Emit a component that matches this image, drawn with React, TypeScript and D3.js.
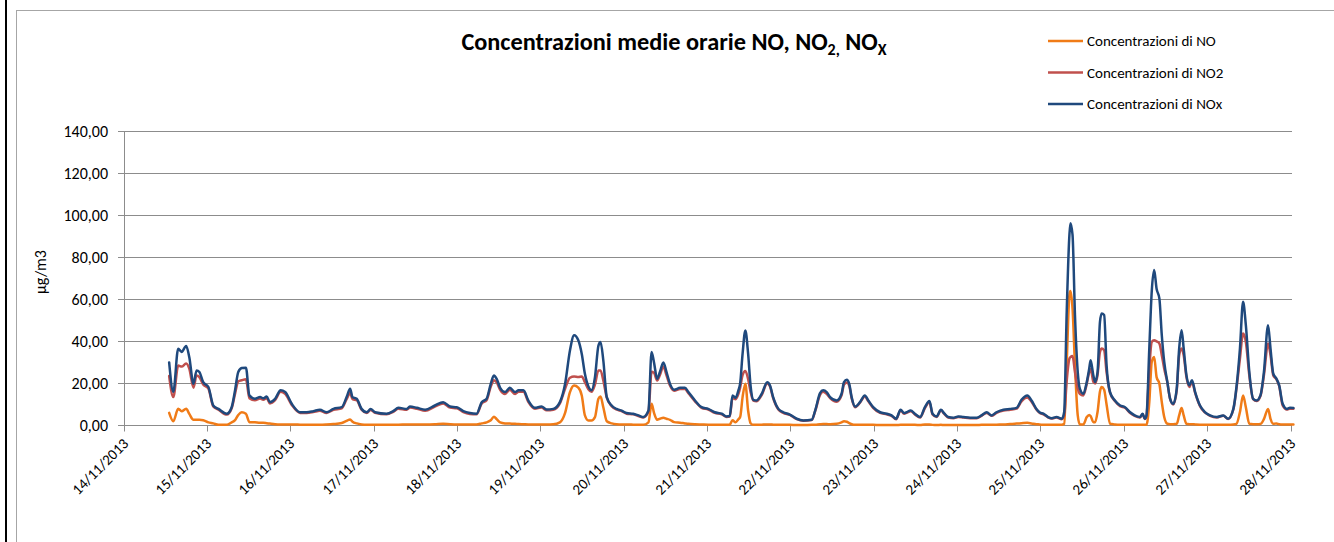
import React from "react";
import * as d3 from "d3";

// hours since 14/11/2013 00:00
const hours = [
  13, 14.2, 15.6, 16.6, 17.9, 18.8, 20.0, 20.9, 21.7, 22.8,
  24.3, 25.7, 27.2, 29.6, 31.0, 31.9, 32.9, 33.9, 35.1, 36.1,
  37.7, 39.2, 40.1, 41.1, 42.0, 43.5, 45.1, 46.4, 48.3, 50.7,
  52.6, 54.5, 56.4, 58.3, 60.3, 62.7, 64.1, 65.1, 65.8, 67.0,
  68.4, 69.9, 71.0, 72.3, 75.6, 77.5, 79.0, 81.4, 82.3, 84.3,
  86.7, 89.5, 91.9, 93.9,
  95.8, 97.7, 99.6, 101.5, 103.0, 104.4, 105.6, 106.5, 107.3, 108.3,
  109.7, 111.1, 112.6, 113.6, 115.0, 116.4, 118.3, 120.2, 121.7, 123.6,
  125.5, 127.0, 128.4, 129.6, 130.8, 131.8, 132.7, 133.7, 134.6, 135.6,
  136.6, 137.2, 138.0, 139.0, 140.4, 141.8, 143.3, 144.7, 146.6, 148.1,
  149.5, 151.0, 151.9, 152.6, 153.5, 154.3, 155.3, 156.2, 157.2, 158.4,
  160.1, 161.5, 162.5, 164.4, 166.3, 168.2, 170.1, 172.1, 173.5, 174.4,
  175.2, 176.1, 176.9,
  177.4, 178.1, 178.9, 179.7, 180.4, 181.2, 182.1, 183.6, 185.2, 186.0,
  186.9, 188.4, 189.8, 191.7, 193.7, 195.6, 198.0, 199.0, 200.4, 201.3,
  202.3, 203.3, 205.2, 206.6, 207.3, 208.1, 208.8, 209.5, 210.5, 211.9,
  213.3, 214.3, 215.7, 217.7, 219.6, 221.0, 222.3, 223.6, 224.6, 225.3,
  226.5, 227.7, 229.2, 230.6, 231.9, 232.8, 234.0, 235.2, 236.1, 237.3,
  238.8, 240.2, 241.7, 243.6, 245.5, 246.9, 248.4, 249.8, 251.2, 253.2,
  255.1, 257.0, 258.4, 260.1, 261.3, 262.7, 263.6,
  264.7, 266.1, 267.1, 268.5, 270.0, 270.7, 271.4, 272.2, 272.5, 273.1,
  273.8, 274.6, 275.2, 276.2, 277.2, 277.9, 278.3, 279.1, 279.6, 280.3,
  281.0, 281.5, 282.2, 282.9, 283.9, 285.3, 286.8, 288.2, 289.6, 291.0,
  292.5, 293.3, 293.9, 294.4, 295.2, 295.9, 296.6, 297.3, 298.1, 298.8,
  299.5, 300.4, 301.2, 302.1, 303.1, 303.8, 304.5, 305.1, 305.9, 306.7,
  307.5, 308.4, 309.8, 311.2, 312.7, 314.6, 316.5, 317.9, 319.4, 320.3,
  321.3, 322.2, 323.0, 324.0, 325.1, 326.1, 327.2, 328.2, 329.4, 330.1,
  330.9, 331.8, 332.6, 333.6, 334.8, 335.7, 336.7,
];

const noxValues = [
  30, 16, 36.5, 35, 37.8, 32.5, 19.8, 26.2, 25.4, 20.6,
  18.3, 9.5, 7.9, 5.6, 8.7, 16, 25.4, 27.3, 27.5, 14.3,
  12.7, 13.5, 12.9, 13.8, 11.1, 12.7, 16.7, 15.9, 10.3, 6.3,
  6.3, 6.8, 7.5, 6.3, 7.9, 8.7, 13.5, 17.5, 13.5, 12.7,
  7.9, 6.3, 7.8, 6.3, 5.6, 6.8, 8.4, 7.9, 9, 8.4,
  7.5, 9.5, 11.1, 9,
  8.7, 6.8, 5.9, 5.6, 11.1, 12.7, 19.8, 23.8, 22.2, 17.9,
  15.9, 17.9, 15.9, 16.7, 16.7, 11.9, 8.4, 9, 7.6, 7.9,
  11.1, 19.8, 35.7, 42.9, 40.5, 34, 24.6, 18.6, 16.7, 23,
  38, 39.7, 31, 13.5, 9.5, 7.9, 7.1, 5.9, 5.6, 4.8,
  4.0, 7.1, 35, 30, 22.2, 25.4, 30, 25.4, 19.8, 17,
  17.9, 17.9, 15.9, 11.9, 8.7, 7.9, 6.3, 5.6, 4.3, 4.5,
  14.3, 13.2, 16.7,
  20, 34, 45.2, 34, 19, 12.2, 11.9, 15, 20.6, 19,
  13.5, 7.9, 6.3, 5.2, 3.2, 2.4, 2.7, 7.1, 15.4, 16.7,
  15.9, 13.5, 11.9, 15.1, 20.6, 21.7, 19.8, 13.5, 9, 11.1,
  14.3, 11.9, 8.7, 6.3, 5.6, 4.8, 3.2, 7.5, 5.9, 6.3,
  7.1, 5.6, 4, 8.7, 11.6, 5.6, 4.3, 7.5, 5.9, 4,
  3.7, 4.3, 4, 3.7, 3.7, 4.8, 6.3, 4.8, 6.3, 7.5,
  7.9, 8.4, 12.2, 14.3, 11.9, 7.9, 6.3,
  5.6, 4, 3.5, 4, 3.2, 6.4, 52.5, 90.6, 96.2, 90.6,
  52.5, 25.4, 17.5, 15.1, 20.7, 27, 31, 23.8, 20.7, 25.4,
  49.3, 53.3, 52.5, 28.6, 15.9, 11.9, 9.5, 8.7, 6.4, 4.8,
  4, 5.6, 3.2, 4.8, 36.6, 63.6, 73.9, 65, 60.4, 42.9,
  30.2, 20.7, 12.7, 10.3, 17.5, 36.6, 45.3, 36.6, 23.8, 19.1,
  21.5, 15.9, 9.5, 6.4, 4.8, 4, 4.8, 3.2, 7.9, 18.3,
  36.6, 58.8, 47.7, 25.4, 12.7, 11.9, 14.3, 25.4, 47.7, 36.6,
  24.6, 22.3, 19.1, 10.3, 7.9, 8.4, 8.3,
];

const no2Values = [
  23.5, 13.5, 28.5, 28, 29.5, 27, 18, 23.8, 23, 19.5,
  17.5, 9, 7.5, 5.2, 8.2, 14.5, 21, 21.5, 22, 13,
  12, 12.8, 12.2, 13, 10.5, 12, 16, 15, 9.8, 6,
  6, 6.4, 7, 6, 7.4, 8.2, 12.5, 15.4, 12.5, 12,
  7.5, 6, 7.4, 6, 5.3, 6.5, 8, 7.5, 8.5, 8,
  7, 9, 10.5, 8.5,
  8.2, 6.4, 5.5, 5.3, 10.5, 12, 18.5, 21.5, 20.5, 17,
  15, 17, 15, 16, 16, 11.3, 8, 8.5, 7.2, 7.5,
  10.5, 17.5, 22.7, 23.3, 23, 23.3, 20.6, 17.2, 16, 19.5,
  26.2, 26.2, 21.4, 13.2, 9.2, 7.6, 6.8, 5.6, 5.3, 4.5,
  3.8, 6.5, 25.5, 25, 21.4, 24, 28, 23.8, 19, 16.5,
  17.3, 17.3, 15.3, 11.5, 8.4, 7.6, 6, 5.3, 4.1, 4.3,
  13, 12.5, 15,
  18, 24, 25.9, 22, 16, 11.8, 11.5, 14.5, 20, 18.5,
  13, 7.6, 6, 5, 3, 2.3, 2.6, 6.8, 14.5, 16,
  15, 13, 11.3, 14.3, 19.5, 20.5, 19, 13, 8.7, 10.8,
  13.8, 11.5, 8.4, 6, 5.3, 4.6, 3, 7.2, 5.6, 6,
  6.8, 5.3, 3.8, 8.3, 11, 5.3, 4.1, 7.2, 5.6, 3.8,
  3.5, 4.1, 3.8, 3.5, 3.5, 4.6, 6, 4.6, 6, 7.1,
  7.5, 8, 11.5, 13.3, 11.3, 7.6, 6,
  5.3, 3.8, 3.3, 3.8, 3, 4.8, 20.7, 31.8, 32.5, 33,
  25.4, 17.5, 15.1, 14.3, 19.9, 25.4, 27, 20.7, 20, 24,
  35, 36.6, 35.8, 25.4, 15.5, 11.6, 9.2, 8.4, 6.1, 4.6,
  3.8, 5.4, 3.1, 4.6, 27, 39.7, 40.5, 40, 39, 33.4,
  27, 20.5, 12.5, 10, 16.7, 33.4, 36.6, 33.4, 23, 18.3,
  20.7, 15.5, 9.2, 6.2, 4.6, 3.8, 4.6, 3.1, 7.6, 17.5,
  31.8, 43.7, 39.7, 23.8, 12.5, 11.6, 14, 23.8, 39, 33.4,
  23.8, 22, 18.8, 9.5, 7.6, 8, 8,
];

const noValues = [
  6, 2, 8, 6.8, 8, 5.5, 2.7, 2.7, 2.7, 2.5,
  1.5, 1, 0.3, 0.3, 1.5, 2.4, 5, 6.3, 5.6, 1.6,
  1.5, 1.3, 1.3, 1.1, 0.9, 0.6, 0.5, 0.5, 0.5, 0.4,
  0.3, 0.4, 0.4, 0.5, 0.7, 1.2, 2.2, 2.9, 1.8, 1.0,
  0.5, 0.3, 0.3, 0.3, 0.3, 0.4, 0.4, 0.5, 0.5, 0.5,
  0.5, 0.6, 0.8, 0.6,
  0.5, 0.5, 0.5, 0.5, 1.0, 1.5, 2.5, 4.2, 3, 1.5,
  1.0, 0.9, 0.8, 0.7, 0.6, 0.5, 0.5, 0.5, 0.5, 0.6,
  1.5, 6, 15.9, 19, 18, 14.3, 4.8, 2.4, 2.4, 4,
  12.7, 13.8, 8.7, 2, 1.0, 0.6, 0.5, 0.5, 0.4, 0.3,
  0.3, 1.5, 10.3, 6, 2.7, 3.2, 3.7, 3.2, 2.7, 1.6,
  1.3, 1.0, 0.8, 0.6, 0.5, 0.4, 0.4, 0.3, 0.3, 0.4,
  2.5, 1.5, 3,
  4, 13.5, 19.8, 7, 1.1, 0.3, 0.3, 0.4, 0.5, 0.5,
  0.4, 0.3, 0.3, 0.3, 0.2, 0.2, 0.3, 0.4, 0.6, 0.7,
  0.7, 0.6, 0.8, 1.5, 2, 1.8, 1.1, 0.6, 0.3, 0.3,
  0.3, 0.3, 0.3, 0.2, 0.2, 0.2, 0.2, 0.3, 0.3, 0.3,
  0.3, 0.3, 0.2, 0.5, 0.5, 0.3, 0.2, 0.3, 0.2, 0.2,
  0.2, 0.2, 0.2, 0.2, 0.2, 0.3, 0.3, 0.3, 0.4, 0.5,
  0.7, 0.9, 1.1, 1.3, 1.0, 0.6, 0.5,
  0.3, 0.3, 0.3, 0.3, 0.3, 0.8, 28.6, 62, 63.9, 55.6,
  28.6, 4.8, 0.5, 0.5, 4, 5, 4.5, 1.6, 1.6, 6.4,
  16.2, 18.3, 17, 10, 0.8, 0.5, 0.4, 0.4, 0.3, 0.3,
  0.3, 0.3, 0.3, 0.3, 11.1, 30.2, 32.6, 23, 19.9, 11.1,
  4, 0.8, 0.6, 0.6, 0.8, 4.8, 8.3, 4.8, 0.8, 0.6,
  0.6, 0.5, 0.4, 0.4, 0.4, 0.4, 0.4, 0.4, 0.5, 0.8,
  6.4, 14.3, 8.7, 0.8, 0.6, 0.6, 0.7, 3, 7.9, 3.2,
  0.8, 1, 0.6, 0.5, 0.5, 0.5, 0.5,
];

const dateLabels = [
  "14/11/2013", "15/11/2013", "16/11/2013", "17/11/2013", "18/11/2013",
  "19/11/2013", "20/11/2013", "21/11/2013", "22/11/2013", "23/11/2013",
  "24/11/2013", "25/11/2013", "26/11/2013", "27/11/2013", "28/11/2013",
];

const yTicks = [0, 20, 40, 60, 80, 100, 120, 140];

const seriesNames = ["Concentrazioni di NO", "Concentrazioni di NO2", "Concentrazioni di NOx"];
const seriesColors = ["#F07B17", "#C0504D", "#1F497D"];

const FONT = "Carlito, Calibri, Lato, 'Open Sans', sans-serif";

export default function App() {
  const W = 1334;
  const H = 542;
  const x = d3.scaleLinear().domain([0, 336]).range([124, 1291]);
  const y = d3.scaleLinear().domain([0, 140]).range([425.5, 131]);
  const snap = (v: number) => Math.round(v - 0.5) + 0.5;

  const n = Math.min(hours.length, noValues.length, no2Values.length, noxValues.length);
  const idx = d3.range(n);
  const allSeries = [noValues, no2Values, noxValues];
  const line = (vals: number[]) =>
    d3
      .line<number>()
      .x((i) => x(hours[i]))
      .y((i) => y(vals[i]))
      .curve(d3.curveMonotoneX)(idx) || "";

  const y0 = snap(y(0));

  return (
    <svg
      width={W}
      height={H}
      style={{ position: "absolute", left: 0, top: 0, background: "#fff" }}
      fontFamily={FONT}
    >
      <rect x={0} y={0} width={W} height={H} fill="#fff" />
      {/* outer frame */}
      <line x1={6} x2={6} y1={0} y2={H} stroke="#000" strokeWidth={2} />
      <rect x={16.5} y={10.5} width={1400} height={700} fill="none" stroke="#A6A6A6" strokeWidth={1} />

      {/* title */}
      <text x={674} y={50} textAnchor="middle" fontSize={24.3} fontWeight="bold" fill="#000">
        Concentrazioni medie orarie NO, NO
        <tspan fontSize={16} dy={5}>2,</tspan>
        <tspan dy={-5}> NO</tspan>
        <tspan fontSize={16} dy={5}>X</tspan>
      </text>

      {/* gridlines */}
      {yTicks.map((t) => (
        <g key={t}>
          {t > 0 && (
            <line x1={124} x2={1292} y1={snap(y(t))} y2={snap(y(t))} stroke="#8C8C8C" strokeWidth={1} />
          )}
          <line x1={118} x2={124} y1={snap(y(t))} y2={snap(y(t))} stroke="#8C8C8C" strokeWidth={1} />
          <text x={108} y={snap(y(t)) + 5.5} textAnchor="end" fontSize={16} fill="#000">
            {t.toFixed(2).replace(".", ",")}
          </text>
        </g>
      ))}

      {/* axes */}
      <line x1={124.5} x2={124.5} y1={snap(y(140))} y2={y0} stroke="#8C8C8C" strokeWidth={1} />
      <line x1={124} x2={1292} y1={y0} y2={y0} stroke="#8C8C8C" strokeWidth={1} />
      {dateLabels.map((d, i) => {
        const tx = snap(x(i * 24));
        return (
          <g key={d}>
            <line x1={tx} x2={tx} y1={y0} y2={y0 + 6} stroke="#8C8C8C" strokeWidth={1} />
            <text
              transform={`translate(${tx + 5},${y0 + 19}) rotate(-45)`}
              textAnchor="end"
              fontSize={15}
              fill="#000"
            >
              {d}
            </text>
          </g>
        );
      })}

      {/* y label */}
      <text transform="translate(46,272) rotate(-90)" textAnchor="middle" fontSize={16} fill="#000">
        µg/m3
      </text>

      {/* series */}
      {allSeries.map((vals, s) => (
        <path
          key={s}
          d={line(vals)}
          fill="none"
          stroke={seriesColors[s]}
          strokeWidth={2.5}
          strokeLinejoin="round"
          strokeLinecap="round"
        />
      ))}

      {/* legend */}
      {seriesNames.map((name, s) => {
        const ly = 41 + s * 31.5;
        return (
          <g key={name}>
            <line x1={1048} x2={1083} y1={ly} y2={ly} stroke={seriesColors[s]} strokeWidth={2.5} />
            <text x={1087} y={ly + 5} fontSize={15} fill="#000">
              {name}
            </text>
          </g>
        );
      })}
    </svg>
  );
}
